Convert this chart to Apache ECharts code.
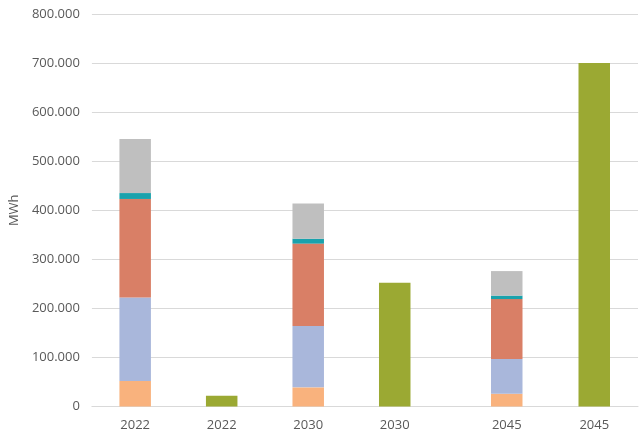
<!DOCTYPE html>
<html>
<head>
<meta charset="utf-8">
<script src="https://cdn.jsdelivr.net/npm/echarts@6/dist/echarts.min.js"></script>
<style>
  html, body { margin: 0; padding: 0; background: #fff; }
  #chart { width: 639px; height: 446px; }
</style>
</head>
<body>
<div id="chart"></div>
<script>
// values in MWh
const categories = ['2022', '2022', '2030', '2030', '2045', '2045']
const orange = [52000, '-', 39000, '-', 26000, '-']
const blue = [170000, '-', 125000, '-', 71000, '-']
const red = [201000, '-', 168000, '-', 122000, '-']
const teal = [12000, '-', 10000, '-', 7000, '-']
const gray = [110000, '-', 72000, '-', 50000, '-']
const green = ['-', 22000, '-', 252000, '-', 700000]
const yTicks = [0, 100000, 200000, 300000, 400000, 500000, 600000, 700000, 800000]

const colors = ['#F9B27D', '#A9B7DB', '#D97F66', '#1AA2AC', '#BFBFBF', '#9BA933']
const seriesData = [orange, blue, red, teal, gray, green]

const fmt = v => String(v).replace(/\B(?=(\d{3})+(?!\d))/g, '.')
const font = 'Open Sans'
const textColor = '#595959'
const lineColor = '#D9D9D9'

// first four categories in the left grid, the last two (after a wider gap) in the right one
const left = arr => arr.slice(0, 4)
const right = arr => [''].concat(arr.slice(4))

const yAxisBase = {
  type: 'value',
  min: yTicks[0],
  max: yTicks[yTicks.length - 1],
  interval: yTicks[1] - yTicks[0],
  axisLine: { show: false },
  axisTick: { show: false },
  splitLine: { lineStyle: { color: lineColor, width: 1 } }
}
const xAxisBase = {
  type: 'category',
  axisLine: { lineStyle: { color: lineColor, width: 1 } },
  axisTick: { show: false },
  axisLabel: { color: textColor, fontFamily: font, fontSize: 13, margin: 12 }
}

const chart = echarts.init(document.getElementById('chart'))
const series = []
seriesData.forEach((d, i) => {
  series.push({
    type: 'bar', stack: 'a', xAxisIndex: 0, yAxisIndex: 0,
    barWidth: 31.5, data: left(d), itemStyle: { color: colors[i] }
  })
  series.push({
    type: 'bar', stack: 'b', xAxisIndex: 1, yAxisIndex: 1,
    barWidth: 31.5, data: right(d), itemStyle: { color: colors[i] }
  })
})

chart.setOption({
  animation: false,
  grid: [
    { left: 88, width: 350, top: 14, bottom: 39.5 },
    { right: 1, width: 262.5, top: 14, bottom: 39.5 }
  ],
  xAxis: [
    Object.assign({ gridIndex: 0, data: left(categories) }, xAxisBase),
    Object.assign({ gridIndex: 1, data: right(categories) }, xAxisBase)
  ],
  yAxis: [
    Object.assign({
      gridIndex: 0,
      name: 'MWh',
      nameLocation: 'middle',
      nameGap: 68,
      nameTextStyle: { color: textColor, fontFamily: font, fontSize: 13 },
      axisLabel: { color: textColor, fontFamily: font, fontSize: 13, margin: 12, formatter: fmt }
    }, yAxisBase),
    Object.assign({ gridIndex: 1, axisLabel: { show: false } }, yAxisBase)
  ],
  series: series
})
</script>
</body>
</html>
